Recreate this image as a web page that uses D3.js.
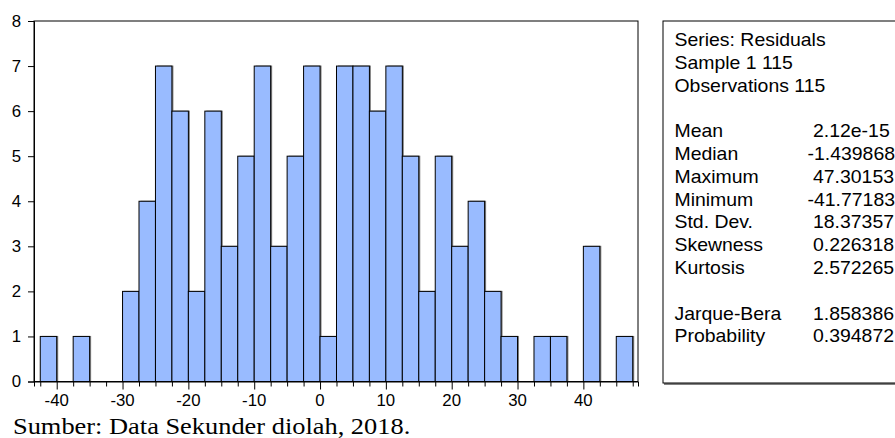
<!DOCTYPE html>
<html>
<head>
<meta charset="utf-8">
<script src="https://cdn.jsdelivr.net/npm/d3@7"></script>
<style>
  body { margin: 0; background: #fff; }
  svg { display: block; }
</style>
</head>
<body>
<div id="chart"></div>
<script>
// histogram of residuals, bins of width 2.5 starting at -42.5
const binStart = -42.5;
const binWidth = 2.5;
const counts = [1, 0, 1, 0, 0, 2, 4, 7, 6, 2, 6, 3, 5, 7, 3, 5, 7, 1, 7, 7, 6, 7, 5, 2, 5, 3, 4, 2, 1, 0, 1, 1, 0, 3, 0, 1];
const xTickLabels = [-40, -30, -20, -10, 0, 10, 20, 30, 40];
const yTickLabels = [0, 1, 2, 3, 4, 5, 6, 7, 8];

const statHeader = ["Series: Residuals", "Sample 1 115", "Observations 115"];
const statNames = ["Mean", "Median", "Maximum", "Minimum", "Std. Dev.", "Skewness", "Kurtosis"];
const statValues = ["2.12e-15", "-1.439868", "47.30153", "-41.77183", "18.37357", "0.226318", "2.572265"];
const testNames = ["Jarque-Bera", "Probability"];
const testValues = ["1.858386", "0.394872"];

const W = 895, H = 438;
const plot = { left: 34, right: 638, top: 21, bottom: 381.5 };

const svg = d3.select("#chart").append("svg")
    .attr("width", W)
    .attr("height", H);

const x = d3.scaleLinear().domain([-43.45, 48.3]).range([plot.left, plot.right]);
const y = d3.scaleLinear().domain([0, 8]).range([plot.bottom, plot.top]);

const bins = counts.map((c, i) => ({ x0: binStart + i * binWidth, x1: binStart + (i + 1) * binWidth, n: c }))
    .filter(d => d.n > 0);

// frame
svg.append("rect")
    .attr("x", plot.left).attr("y", plot.top)
    .attr("width", plot.right - plot.left).attr("height", plot.bottom - plot.top)
    .attr("fill", "#fff").attr("stroke", "#000").attr("stroke-width", 1);

// bar shadows
svg.append("g").selectAll("rect")
    .data(bins)
    .join("rect")
    .attr("x", d => x(d.x0) + 1.5)
    .attr("y", d => y(d.n) - 0.5)
    .attr("width", d => x(d.x1) - x(d.x0))
    .attr("height", d => plot.bottom - y(d.n))
    .attr("fill", "#7f7f7f");

// bars
svg.append("g").selectAll("rect")
    .data(bins)
    .join("rect")
    .attr("x", d => x(d.x0))
    .attr("y", d => y(d.n))
    .attr("width", d => x(d.x1) - x(d.x0))
    .attr("height", d => plot.bottom - y(d.n))
    .attr("fill", "#99bbff")
    .attr("stroke", "#000")
    .attr("stroke-width", 1);

// x axis: minor ticks at every bin edge, longer ones at the labels
svg.append("g")
    .attr("transform", `translate(0,${plot.bottom})`)
    .call(d3.axisBottom(x)
        .tickValues(d3.range(binStart, 47.6, binWidth).filter(v => v % 10 !== 0))
        .tickSize(5)
        .tickFormat(""))
    .call(g => g.select(".domain").attr("stroke", "#000"));

svg.append("g")
    .attr("transform", `translate(0,${plot.bottom})`)
    .call(d3.axisBottom(x)
        .tickValues(xTickLabels)
        .tickSize(8)
        .tickSizeOuter(0)
        .tickFormat(""))
    .call(g => g.select(".domain").remove());

svg.append("g").selectAll("text")
    .data(xTickLabels)
    .join("text")
    .attr("transform", d => `translate(${x(d)},405.5) scale(1.05,1)`)
    .attr("text-anchor", "middle")
    .style("font-family", "'Liberation Sans', Arial, sans-serif")
    .style("font-size", "16px")
    .text(d => d);

// y axis
svg.append("g")
    .attr("transform", `translate(${plot.left},0)`)
    .call(d3.axisLeft(y).tickValues(yTickLabels).tickSize(6).tickFormat(""));

svg.append("g").selectAll("text")
    .data(yTickLabels)
    .join("text")
    .attr("transform", d => `translate(21,${y(d) + 5.5}) scale(1.05,1)`)
    .attr("text-anchor", "end")
    .style("font-family", "'Liberation Sans', Arial, sans-serif")
    .style("font-size", "16px")
    .text(d => d);

// stats box
svg.append("line")
    .attr("x1", 664).attr("x2", W).attr("y1", 384).attr("y2", 384)
    .attr("stroke", "#808080").attr("stroke-width", 2);
svg.append("rect")
    .attr("x", 663).attr("y", 21)
    .attr("width", 260).attr("height", 362)
    .attr("fill", "#fff").attr("stroke", "#000").attr("stroke-width", 1);

const lineY = i => 46 + i * 22.8;
const statFont = g => g
    .style("font-family", "'Liberation Sans', Arial, sans-serif")
    .style("font-size", "18px");

const labels = [
    ...statHeader.map((t, i) => ({ t, i })),
    ...statNames.map((t, i) => ({ t, i: i + 4 })),
    ...testNames.map((t, i) => ({ t, i: i + 12 }))
];
const values = [
    ...statValues.map((t, i) => ({ t, i: i + 4 })),
    ...testValues.map((t, i) => ({ t, i: i + 12 }))
];

svg.append("g").call(statFont).selectAll("text")
    .data(labels)
    .join("text")
    .attr("transform", d => `translate(674.5,${lineY(d.i)}) scale(1.08,1)`)
    .text(d => d.t);

svg.append("g").call(statFont).selectAll("text")
    .data(values)
    .join("text")
    .attr("transform", d => `translate(${d.t.startsWith("-") ? 807.5 : 813},${lineY(d.i)}) scale(1.08,1)`)
    .text(d => d.t);

// source note
svg.append("text")
    .attr("transform", "translate(13,434) scale(1.1,1)")
    .style("font-family", "'Liberation Serif', 'Times New Roman', serif")
    .style("font-size", "24px")
    .text("Sumber: Data Sekunder diolah, 2018.");
</script>
</body>
</html>
